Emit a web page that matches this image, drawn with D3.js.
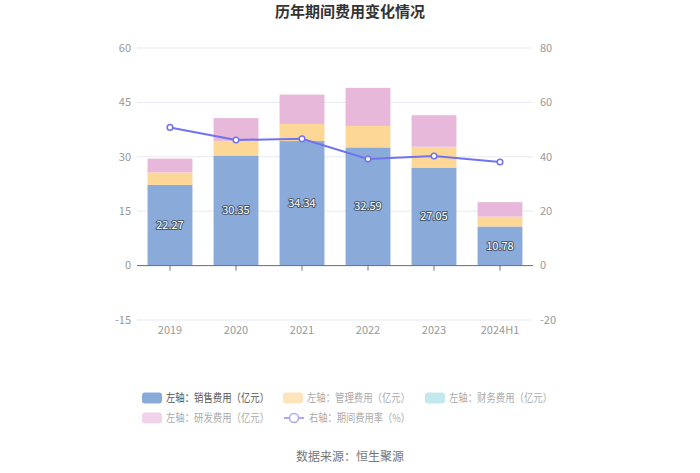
<!DOCTYPE html>
<html><head><meta charset="utf-8">
<script src="https://cdn.jsdelivr.net/npm/d3@7"></script>
<style>
body{margin:0;background:#fff;}
text{font-family:"Noto Sans CJK SC","Microsoft YaHei",sans-serif;}
</style></head>
<body><svg id="c" width="700" height="473"></svg>
<script>
const categories = ["2019","2020","2021","2022","2023","2024H1"];
const sales = [22.27,30.35,34.34,32.59,27.05,10.78];
const admin = [3.4,3.9,4.7,5.9,5.7,2.7];
const finance = [0.02,0.02,0.02,0.02,0.02,0.02];
const rnd = [3.8,6.4,8.1,10.5,8.7,4.0];
const rate = [50.8,46.2,46.6,39.2,40.3,38.1];
const leftTicks = [-15,0,15,30,45,60];
const rightTicks = [-20,0,20,40,60,80];
const seriesNames = ["左轴：销售费用（亿元）","左轴：管理费用（亿元）","左轴：财务费用（亿元）","左轴：研发费用（亿元）","右轴：期间费用率（%）"];
const colors = ["#8aabd9","#fdd796","#b3e4e8","#e7b8da","#7073f0"];
const legendColors = ["#8aabd9","#fde4bb","#c2e9ee","#f0d3e8","#7073f0"];

const svg = d3.select("#c");
const L = 137, R = 533, T = 48, B = 320;
const x = d3.scaleBand().domain(categories).range([L,R]).paddingInner(0.32).paddingOuter(0.16);
const xc = d3.scaleBand().domain(categories).range([L,R]);
const yL = d3.scaleLinear().domain([-15,60]).range([B,T]);
const yR = d3.scaleLinear().domain([-20,80]).range([B,T]);

// title
svg.append("text").attr("x",350).attr("y",17).attr("text-anchor","middle")
  .attr("font-size",15).attr("font-weight","bold").attr("fill","#333").text("历年期间费用变化情况");

// grid
svg.append("g").selectAll("line").data(leftTicks).join("line")
  .attr("x1",L).attr("x2",R).attr("y1",d=>yL(d)).attr("y2",d=>yL(d))
  .attr("stroke","#e6e9f0").attr("stroke-width",1);

// axis labels
svg.append("g").selectAll("text").data(leftTicks).join("text")
  .attr("x",131).attr("y",d=>yL(d)).attr("dy","0.35em").attr("text-anchor","end")
  .attr("font-size",11).attr("fill","#999").text(d=>d);
svg.append("g").selectAll("text").data(rightTicks).join("text")
  .attr("x",540).attr("y",d=>yR(d)).attr("dy","0.35em").attr("text-anchor","start")
  .attr("font-size",11).attr("fill","#999").text(d=>d);

// stacked bars
const stackData = categories.map((c,i)=>({cat:c,s:sales[i],a:admin[i],f:finance[i],r:rnd[i]}));
const stack = d3.stack().keys(["s","a","f","r"]).offset(d3.stackOffsetDiverging)(stackData);
svg.append("g").selectAll("g").data(stack).join("g").attr("fill",(d,i)=>colors[i])
  .selectAll("rect").data(d=>d).join("rect")
  .attr("x",d=>x(d.data.cat)).attr("width",x.bandwidth())
  .attr("y",d=>yL(Math.max(d[0],d[1]))).attr("height",d=>Math.abs(yL(d[0])-yL(d[1])));

// zero axis
svg.append("line").attr("x1",L).attr("x2",R).attr("y1",yL(0)).attr("y2",yL(0)).attr("stroke","#6e7079");
svg.append("g").selectAll("line").data(categories).join("line")
  .attr("x1",d=>xc(d)+xc.bandwidth()/2).attr("x2",d=>xc(d)+xc.bandwidth()/2)
  .attr("y1",yL(0)).attr("y2",yL(0)+5).attr("stroke","#6e7079");

// category labels
svg.append("g").selectAll("text").data(categories).join("text")
  .attr("x",d=>xc(d)+xc.bandwidth()/2).attr("y",334).attr("text-anchor","middle")
  .attr("font-size",11).attr("fill","#999").text(d=>d);

// bar labels
svg.append("g").selectAll("text").data(stackData).join("text")
  .attr("x",d=>x(d.cat)+x.bandwidth()/2).attr("y",d=>yL(d.s/2)).attr("dy","0.35em")
  .attr("text-anchor","middle").attr("font-size",11).attr("fill","#fff")
  .attr("stroke","#4a5a70").attr("stroke-width",2).attr("paint-order","stroke")
  .attr("stroke-linejoin","round").text(d=>d.s.toFixed(2));

// line
const line = d3.line().x((d,i)=>xc(categories[i])+xc.bandwidth()/2).y(d=>yR(d));
svg.append("path").datum(rate).attr("d",line).attr("fill","none").attr("stroke",colors[4]).attr("stroke-width",2);
svg.append("g").selectAll("circle").data(rate).join("circle")
  .attr("cx",(d,i)=>xc(categories[i])+xc.bandwidth()/2).attr("cy",d=>yR(d)).attr("r",2.8)
  .attr("fill","#fff").attr("stroke",colors[4]).attr("stroke-width",1.5);

// legend
const legPos = [[142,398],[283,398],[425,398],[142,418],[284,418]];
const legLen = [103,103,103,103,101];
const lg = svg.append("g");
seriesNames.forEach((n,i)=>{
  const [lx,ly] = legPos[i];
  if(i<4){
    lg.append("rect").attr("x",lx).attr("y",ly-5.5).attr("width",20).attr("height",11).attr("rx",3).attr("fill",legendColors[i]);
  } else {
    lg.append("line").attr("x1",lx).attr("x2",lx+20).attr("y1",ly).attr("y2",ly).attr("stroke","#a9abf5").attr("stroke-width",2);
    lg.append("circle").attr("cx",lx+10).attr("cy",ly).attr("r",4.5).attr("fill","#fff").attr("stroke","#a9abf5").attr("stroke-width",1.5);
  }
  lg.append("text").attr("x",lx+(i===4?25:24)).attr("y",ly).attr("dy","0.35em").attr("font-size",11)
    .attr("textLength",legLen[i]).attr("lengthAdjust","spacingAndGlyphs")
    .attr("fill",i===0?"#555":"#aaa").text(n);
});

// source
svg.append("text").attr("x",350).attr("y",461).attr("text-anchor","middle").attr("font-size",12).attr("fill","#777").text("数据来源：恒生聚源");
</script></body></html>
